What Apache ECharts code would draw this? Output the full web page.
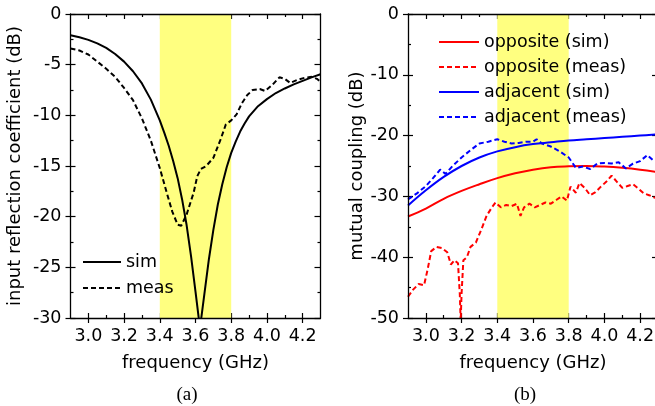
<!DOCTYPE html>
<html>
<head>
<meta charset="utf-8">
<script src="https://cdn.jsdelivr.net/npm/echarts@6/dist/echarts.min.js"></script>
<style>
  html, body { margin: 0; padding: 0; background: #fff; }
  #chart { width: 655px; height: 406px; }
</style>
</head>
<body>
<div id="chart"></div>
<script>
// ---- frequency axis (GHz) ----
const FREQ_MIN = 2.9;
const FREQ_MAX = 4.3;
const freqTicks = [3.0, 3.2, 3.4, 3.6, 3.8, 4.0, 4.2];
const freqMinorTicks = [3.1, 3.3, 3.5, 3.7, 3.9, 4.1];
const bandStart = 3.4;
const bandEnd = 3.8;

// ---- (a) input reflection coefficient (dB) ----
const s11SimFreq = [2.90, 2.95, 3.00, 3.05, 3.10, 3.15, 3.20, 3.25, 3.30, 3.35, 3.40, 3.425, 3.45, 3.475, 3.50, 3.525,
  3.55, 3.575, 3.60, 3.625, 3.65, 3.675, 3.70, 3.725, 3.75, 3.775, 3.80, 3.825, 3.85, 3.875, 3.90, 3.95, 4.00, 4.05,
  4.10, 4.15, 4.20, 4.25, 4.30];
const s11Sim = [-2.1, -2.3, -2.55, -2.9, -3.35, -3.95, -4.7, -5.65, -6.85, -8.45, -10.5, -11.7, -13.0, -14.5, -16.2, -18.3,
  -20.8, -23.9, -27.4, -31.0, -27.6, -24.2, -21.3, -18.8, -16.8, -15.1, -13.7, -12.6, -11.6, -10.8, -10.1, -9.1, -8.4, -7.8,
  -7.35, -6.95, -6.6, -6.25, -5.95];

const s11MeasFreq = [2.90, 2.95, 3.00, 3.05, 3.10, 3.15, 3.20, 3.25, 3.30, 3.35, 3.40, 3.44, 3.47, 3.50, 3.52, 3.55,
  3.57, 3.59, 3.61, 3.63, 3.66, 3.70, 3.74, 3.77, 3.80, 3.83, 3.86, 3.89, 3.92, 3.96, 3.99, 4.03, 4.07, 4.10, 4.13,
  4.17, 4.21, 4.25, 4.28, 4.30];
const s11Meas = [-3.4, -3.6, -4.0, -4.7, -5.4, -6.2, -7.3, -8.5, -10.3, -12.5, -15.2, -17.7, -19.5, -20.8, -20.9, -19.8,
  -18.7, -17.6, -16.0, -15.3, -15.0, -14.2, -12.4, -10.9, -10.5, -9.9, -8.8, -8.0, -7.5, -7.4, -7.6, -7.0, -6.25, -6.4, -6.8,
  -6.5, -6.3, -6.2, -6.4, -6.7];

// ---- (b) mutual coupling (dB) ----
const couplingSimFreq = [2.90, 3.00, 3.10, 3.20, 3.30, 3.40, 3.50, 3.60, 3.70, 3.80, 3.90, 4.00, 4.10, 4.20, 4.30];
const oppositeSim = [-33.3, -32.0, -30.4, -29.1, -28.0, -27.0, -26.2, -25.6, -25.2, -25.05, -25.0, -25.1, -25.3, -25.6, -26.0];
const adjacentSim = [-31.5, -29.0, -26.8, -25.0, -23.6, -22.6, -21.9, -21.4, -21.1, -20.8, -20.6, -20.4, -20.2, -20.0, -19.8];

const oppositeMeasFreq = [2.90, 2.93, 2.96, 2.99, 3.01, 3.03, 3.06, 3.09, 3.12, 3.14, 3.16, 3.18, 3.19, 3.195, 3.20, 3.21,
  3.23, 3.25, 3.28, 3.31, 3.34, 3.37, 3.39, 3.42, 3.45, 3.48, 3.51, 3.53, 3.55, 3.58, 3.61, 3.64, 3.67, 3.70, 3.73, 3.76,
  3.79, 3.81, 3.84, 3.86, 3.89, 3.92, 3.95, 3.98, 4.01, 4.04, 4.07, 4.10, 4.13, 4.16, 4.19, 4.22, 4.25, 4.28, 4.30];
const oppositeMeas = [-46.5, -45.3, -44.4, -44.6, -42.0, -39.0, -38.3, -38.5, -39.2, -41.2, -40.5, -41.0, -46.0, -50.5, -46.0, -40.5,
  -40.0, -38.3, -37.6, -35.5, -33.2, -31.8, -31.0, -31.8, -31.4, -31.6, -31.2, -33.2, -31.8, -31.2, -31.8, -31.4, -31.0, -31.2, -30.6, -30.0,
  -30.7, -28.4, -29.4, -27.8, -28.6, -29.8, -29.3, -28.4, -27.6, -26.6, -27.6, -28.6, -28.3, -28.0, -28.7, -29.5, -29.8, -30.2, -30.3];

const adjacentMeasFreq = [2.90, 2.95, 3.00, 3.04, 3.08, 3.11, 3.15, 3.20, 3.25, 3.30, 3.35, 3.40, 3.44, 3.48, 3.52, 3.56,
  3.60, 3.62, 3.65, 3.70, 3.75, 3.80, 3.84, 3.88, 3.92, 3.96, 4.00, 4.04, 4.08, 4.12, 4.16, 4.20, 4.24, 4.27, 4.30];
const adjacentMeas = [-30.5, -29.5, -28.3, -27.0, -25.6, -26.3, -25.0, -23.6, -22.4, -21.3, -21.0, -20.6, -21.0, -21.3, -21.2, -21.0,
  -21.0, -20.6, -21.3, -21.8, -22.6, -23.6, -25.3, -25.1, -25.5, -24.6, -24.5, -24.6, -24.4, -25.4, -24.6, -24.2, -23.2, -24.0, -24.2];

// ---- styling ----
const FONT = 'DejaVu Sans';
const FS = 17.5;
const INK = '#000';
const BAND_COLOR = '#ffff80';
const tickLine = { color: INK, width: 1.2 };
const frameLine = { color: INK, width: 1.3 };
const textStyle = { fontFamily: FONT, fontSize: FS, color: INK };
const nameStyle = { fontFamily: FONT, fontSize: 18, color: INK };

const pairs = (xs, ys) => xs.map((x, i) => [x, ys[i]]);

// Six x axes per grid: labels/ticks sit under the band, frame lines above it.
function buildXAxes(gi) {
  const common = {
    gridIndex: gi, type: 'value', min: FREQ_MIN, max: FREQ_MAX,
    splitLine: { show: false }, axisLabel: { show: false }, silent: true
  };
  const noLine = { show: false, onZero: false };
  return [
    Object.assign({}, common, {
      position: 'bottom', z: 0, axisLine: noLine,
      name: 'frequency (GHz)', nameLocation: 'middle', nameGap: 36, nameTextStyle: nameStyle,
      axisLabel: Object.assign({ show: true, customValues: freqTicks, formatter: v => v.toFixed(1), margin: 9 }, textStyle),
      axisTick: { show: true, customValues: freqTicks, inside: true, length: 5, lineStyle: tickLine }
    }),
    Object.assign({}, common, {
      position: 'bottom', z: 4, axisLine: { show: true, onZero: false, lineStyle: frameLine },
      axisTick: { show: true, customValues: freqTicks, inside: false, length: 5, lineStyle: tickLine }
    }),
    Object.assign({}, common, {
      position: 'bottom', z: 0, axisLine: noLine,
      axisTick: { show: true, customValues: freqMinorTicks, inside: true, length: 3, lineStyle: tickLine }
    }),
    Object.assign({}, common, {
      position: 'top', z: 0, axisLine: noLine,
      axisTick: { show: true, customValues: freqTicks, inside: true, length: 5, lineStyle: tickLine }
    }),
    Object.assign({}, common, {
      position: 'top', z: 0, axisLine: noLine,
      axisTick: { show: true, customValues: freqMinorTicks, inside: true, length: 3, lineStyle: tickLine }
    }),
    Object.assign({}, common, {
      position: 'top', z: 4, axisLine: { show: true, onZero: false, lineStyle: frameLine },
      axisTick: { show: false }
    })
  ];
}

// Four y axes per grid: labelled left axis, outward left ticks + frame, right ticks, right frame.
function buildYAxes(gi, min, interval, name, nameGap) {
  const common = {
    gridIndex: gi, type: 'value', min: min, max: 0, interval: interval,
    splitLine: { show: false }, axisLabel: { show: false }, silent: true
  };
  const noLine = { show: false, onZero: false };
  const minor = { show: true, splitNumber: 2, length: 3, lineStyle: tickLine };
  return [
    Object.assign({}, common, {
      position: 'left', z: 0, axisLine: noLine,
      name: name, nameLocation: 'middle', nameGap: nameGap, nameTextStyle: nameStyle,
      axisLabel: Object.assign({ show: true, margin: 9 }, textStyle),
      axisTick: { show: true, inside: true, length: 5, lineStyle: tickLine },
      minorTick: minor
    }),
    Object.assign({}, common, {
      position: 'left', z: 4, axisLine: { show: true, onZero: false, lineStyle: frameLine },
      axisTick: { show: true, inside: false, length: 5, lineStyle: tickLine }
    }),
    Object.assign({}, common, {
      position: 'right', z: 0, axisLine: noLine,
      axisTick: { show: true, inside: true, length: 6, lineStyle: tickLine },
      minorTick: minor
    }),
    Object.assign({}, common, {
      position: 'right', z: 4, axisLine: { show: true, onZero: false, lineStyle: frameLine },
      axisTick: { show: false }
    })
  ];
}

function bandSeries(xi, yi) {
  return {
    type: 'line', name: 'band', xAxisIndex: xi, yAxisIndex: yi, z: 1, data: [], silent: true,
    markArea: {
      silent: true, itemStyle: { color: BAND_COLOR, opacity: 1 },
      data: [[{ xAxis: bandStart }, { xAxis: bandEnd }]]
    }
  };
}

function curve(name, xi, yi, data, color, dashed, smooth) {
  return {
    type: 'line', name: name, xAxisIndex: xi, yAxisIndex: yi, z: 2, data: data,
    symbol: 'none', showSymbol: false, silent: true, clip: true, smooth: smooth || false,
    lineStyle: { color: color, width: 2, type: dashed ? [5, 3] : 'solid' },
    itemStyle: { color: color },
    emphasis: { disabled: true }
  };
}

// legend keys show only the line sample (no marker)
const legendCommon = {
  orient: 'vertical', padding: 0, selectedMode: false,
  textStyle: Object.assign({ lineHeight: 20 }, textStyle), itemHeight: 14,
  itemStyle: { opacity: 0, borderWidth: 0 }
};

const option = {
  animation: false,
  backgroundColor: '#fff',
  grid: [
    { left: 70.5, right: 334.5, top: 14, bottom: 88, containLabel: false, outerBoundsMode: 'none' },
    { left: 408, right: -3, top: 14, bottom: 88, containLabel: false, outerBoundsMode: 'none' }
  ],
  xAxis: buildXAxes(0).concat(buildXAxes(1)),
  yAxis: buildYAxes(0, -30, 5, 'input reflection coefficient (dB)', 46)
    .concat(buildYAxes(1, -50, 10, 'mutual coupling (dB)', 42)),
  legend: [
    Object.assign({}, legendCommon, {
      data: ['sim', 'meas'], left: 82, top: 252, itemWidth: 38, itemGap: 6
    }),
    Object.assign({}, legendCommon, {
      data: ['opposite (sim)', 'opposite (meas)', 'adjacent (sim)', 'adjacent (meas)'],
      left: 438, top: 32, itemWidth: 40, itemGap: 5
    })
  ],
  series: [
    bandSeries(0, 0),
    curve('sim', 0, 0, pairs(s11SimFreq, s11Sim), INK, false, false),
    curve('meas', 0, 0, pairs(s11MeasFreq, s11Meas), INK, true, false),
    bandSeries(6, 4),
    curve('opposite (sim)', 6, 4, pairs(couplingSimFreq, oppositeSim), '#ff0000', false, 0.4),
    curve('opposite (meas)', 6, 4, pairs(oppositeMeasFreq, oppositeMeas), '#ff0000', true, false),
    curve('adjacent (sim)', 6, 4, pairs(couplingSimFreq, adjacentSim), '#0000ff', false, 0.4),
    curve('adjacent (meas)', 6, 4, pairs(adjacentMeasFreq, adjacentMeas), '#0000ff', true, false)
  ],
  graphic: [
    { type: 'text', x: 187, y: 395, silent: true,
      style: { text: '(a)', font: '19px "Liberation Serif"', fill: INK, align: 'center', verticalAlign: 'middle' } },
    { type: 'text', x: 525, y: 395, silent: true,
      style: { text: '(b)', font: '19px "Liberation Serif"', fill: INK, align: 'center', verticalAlign: 'middle' } }
  ]
};

const chart = echarts.init(document.getElementById('chart'), null, { renderer: 'canvas' });
chart.setOption(option);
</script>
</body>
</html>
